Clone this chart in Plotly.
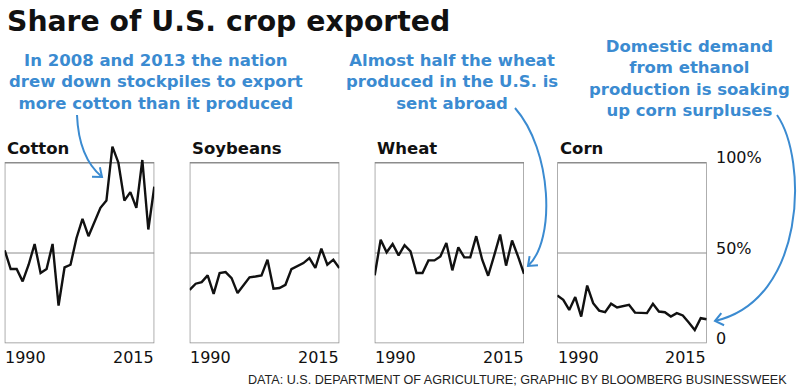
import plotly.graph_objects as go
import math

years = list(range(1990, 2016))
crops = ["Cotton", "Soybeans", "Wheat", "Corn"]
cotton = [51.5, 41.1, 41.1, 34.3, 43.5, 55.0, 38.9, 41.1, 55.0, 20.9, 42.0, 43.5, 58.3,
          68.9, 59.3, 67.6, 75.0, 79.0, 108.9, 100.0, 79.0, 83.7, 75.0, 101.5, 63.0, 86.7]
soybeans = [29.6, 33.0, 33.9, 37.6, 27.4, 38.9, 39.4, 36.1, 27.8, 32.4, 36.5, 37.0, 37.6,
            46.3, 30.2, 30.6, 32.4, 41.1, 42.6, 44.4, 47.2, 41.7, 52.4, 43.5, 46.3, 41.7]
wheat = [37.6, 57.4, 50.4, 55.0, 48.7, 54.3, 50.9, 38.9, 38.9, 45.9, 45.9, 48.1, 55.6,
         40.4, 53.1, 47.6, 47.6, 59.3, 46.3, 37.4, 48.5, 60.2, 43.0, 56.9, 48.1, 38.5]
corn = [26.5, 24.1, 18.5, 25.6, 14.8, 32.0, 22.2, 18.1, 17.2, 21.9, 19.8, 20.4, 21.3,
        17.0, 16.7, 16.7, 21.9, 17.6, 17.2, 14.8, 16.7, 15.4, 11.5, 7.4, 13.9, 13.3]
series = [cotton, soybeans, wheat, corn]
y_tick_vals = [100, 50, 0]
y_tick_text = ["100%", "50%", "0"]
year_labels = ["1990", "2015"]

title = "Share of U.S. crop exported"
notes = [
    "In 2008 and 2013 the nation<br>drew down stockpiles to export<br>more cotton than it produced",
    "Almost half the wheat<br>produced in the U.S. is<br>sent abroad",
    "Domestic demand<br>from ethanol<br>production is soaking<br>up corn surpluses",
]
source = "DATA: U.S. DEPARTMENT OF AGRICULTURE; GRAPHIC BY BLOOMBERG BUSINESSWEEK"

W, H = 800, 391
BLUE = "#3b8bd1"
FONT = "DejaVu Sans, Arial, sans-serif"
FONT2 = "Liberation Sans, Arial, sans-serif"


def px(x):
    return x / W


def py(y):
    return 1 - y / H


# panel geometry (pixels)
box_x = [(4.7, 154.3), (189.7, 339.3), (374.7, 524.0), (557.3, 706.7)]
y_bottom, y_top100 = 343.3, 162.7
ppu = (y_bottom - y_top100) / 100
YMAX = 115
dom_top = y_bottom - YMAX * ppu

fig = go.Figure()
shapes = []
annotations = []
for i, (name, vals) in enumerate(zip(crops, series)):
    ax = "" if i == 0 else str(i + 1)
    fig.add_trace(go.Scatter(x=years, y=vals, mode="lines",
                             line=dict(color="#111111", width=2.4),
                             cliponaxis=False, hoverinfo="skip",
                             xaxis="x" + ax, yaxis="y" + ax, showlegend=False))
    x0, x1 = box_x[i]
    fig.layout["xaxis" + ax] = dict(domain=[px(x0), px(x1)], range=[years[0], years[-1]],
                                    visible=False, fixedrange=True, anchor="y" + ax)
    fig.layout["yaxis" + ax] = dict(domain=[py(y_bottom), py(dom_top)], range=[0, YMAX],
                                    visible=False, fixedrange=True, anchor="x" + ax)
    shapes.append(dict(type="rect", xref="x" + ax, yref="y" + ax, x0=years[0], x1=years[-1],
                       y0=0, y1=100, line=dict(color="#8c8c8c", width=1.4), layer="below"))
    shapes.append(dict(type="line", xref="x" + ax, yref="y" + ax, x0=years[0], x1=years[-1],
                       y0=50, y1=50, line=dict(color="#8c8c8c", width=1), layer="below"))
    annotations.append(dict(text="<b>%s</b>" % name, xref="paper", yref="paper",
                            x=px(x0 + 0.5), y=py(148), xanchor="left", yanchor="middle",
                            showarrow=False, font=dict(size=16.5, color="#111", family=FONT)))
    annotations.append(dict(text=year_labels[0], xref="paper", yref="paper",
                            x=px(x0 - 1.5), y=py(357), xanchor="left", yanchor="middle",
                            showarrow=False, font=dict(size=16, color="#111", family=FONT)))
    annotations.append(dict(text=year_labels[1], xref="paper", yref="paper",
                            x=px(x1 + 1.5), y=py(357), xanchor="right", yanchor="middle",
                            showarrow=False, font=dict(size=16, color="#111", family=FONT)))

# right-side value labels
for v, t in zip(y_tick_vals, y_tick_text):
    annotations.append(dict(text=t, xref="paper", yref="paper", x=px(714),
                            y=py(y_bottom - v * ppu - 5), xanchor="left", yanchor="middle",
                            showarrow=False, font=dict(size=16, color="#111", family=FONT)))

# title
annotations.append(dict(text="<b>%s</b>" % title, xref="paper", yref="paper", x=px(5),
                        y=py(22), xanchor="left", yanchor="middle", showarrow=False,
                        font=dict(size=28.3, color="#111", family=FONT)))

# notes
note_pos = [(156, 82), (452, 82), (689, 78.5)]
for t, (nx, ny) in zip(notes, note_pos):
    annotations.append(dict(text="<b>%s</b>" % t, xref="paper", yref="paper", x=px(nx),
                            y=py(ny), xanchor="center", yanchor="middle", align="center",
                            showarrow=False, font=dict(size=16.5, color=BLUE, family=FONT)))

annotations.append(dict(text=source, xref="paper", yref="paper", x=px(789), y=py(380),
                        xanchor="right", yanchor="middle", showarrow=False,
                        font=dict(size=12.6, color="#222", family=FONT2)))


# curved arrows (pixel coords -> paper)
def arrow(p0, c1, c2, p3):
    path = "M %f,%f C %f,%f %f,%f %f,%f" % (px(p0[0]), py(p0[1]), px(c1[0]), py(c1[1]),
                                            px(c2[0]), py(c2[1]), px(p3[0]), py(p3[1]))
    shapes.append(dict(type="path", xref="paper", yref="paper", path=path,
                       line=dict(color=BLUE, width=2)))
    dx, dy = p3[0] - c2[0], p3[1] - c2[1]
    ang = math.atan2(dy, dx)
    L, a = 10, math.radians(38)
    pts = []
    for s in (1, -1):
        bx = p3[0] - L * math.cos(ang + s * a)
        by = p3[1] - L * math.sin(ang + s * a)
        pts.append((bx, by))
    hp = "M %f,%f L %f,%f L %f,%f" % (px(pts[0][0]), py(pts[0][1]), px(p3[0]), py(p3[1]),
                                      px(pts[1][0]), py(pts[1][1]))
    shapes.append(dict(type="path", xref="paper", yref="paper", path=hp,
                       line=dict(color=BLUE, width=2)))


arrow((77, 115), (78, 140), (84, 162), (102, 177))
arrow((515, 108), (552, 150), (556, 240), (528, 266))
arrow((777, 115), (808, 160), (806, 300), (715, 321))

fig.update_layout(width=W, height=H, margin=dict(l=0, r=0, t=0, b=0),
                  paper_bgcolor="white", plot_bgcolor="rgba(0,0,0,0)",
                  shapes=shapes, annotations=annotations, showlegend=False)
fig.write_html("out.html", config={"displayModeBar": False},
               post_script="document.body.style.margin='0';document.body.style.overflow='hidden';")
